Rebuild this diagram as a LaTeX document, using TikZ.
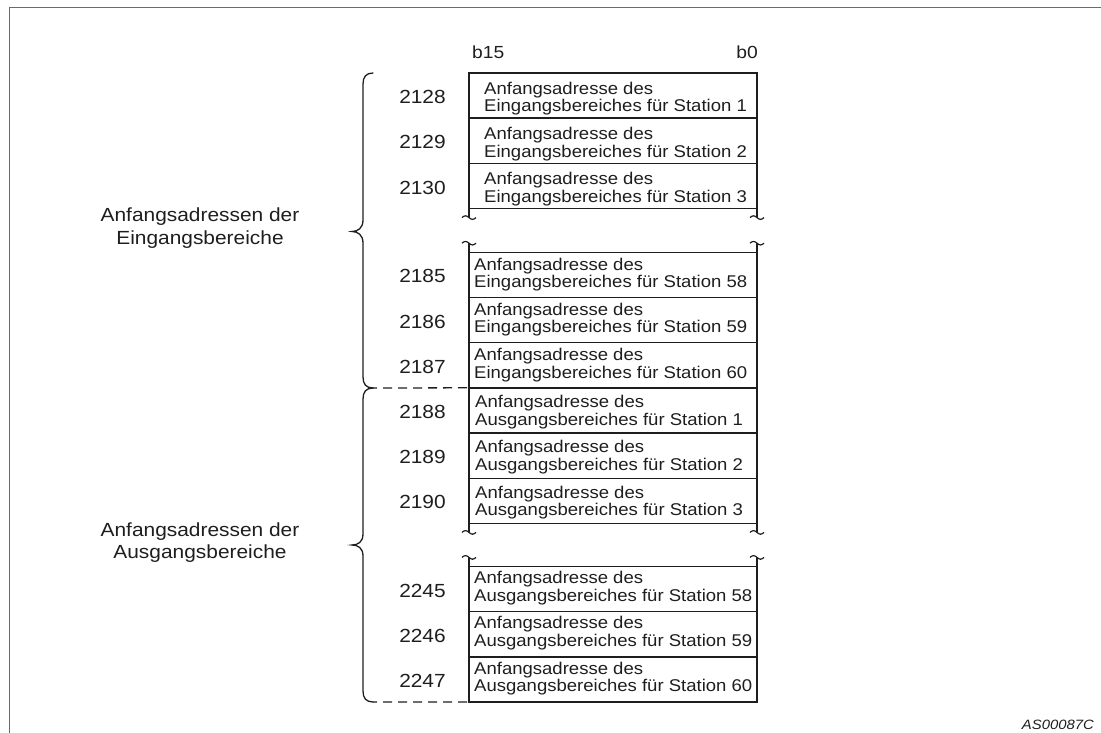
\documentclass[tikz,border=0pt]{standalone}
\usepackage{fontspec}
\setmainfont{Liberation Sans}
\newfontfamily\rowfont[FakeStretch=1.09]{Liberation Sans}
\newfontfamily\numfont[FakeStretch=1.1]{Liberation Sans}
\usetikzlibrary{calc}
\definecolor{ink}{HTML}{1E1E1E}
\definecolor{framegray}{HTML}{6A6A6A}

\begin{document}
\begin{tikzpicture}[x=1pt,y=-1pt,
  cell/.style={draw=ink, line width=1.4pt, minimum width=288pt, minimum height=45.2pt,
    inner sep=0pt, outer sep=0pt, anchor=north west},
  celltext/.style={inner sep=0pt, anchor=base west, text=ink,
    font=\rowfont\fontsize{17}{17.5}\selectfont},
  addr/.style={inner sep=0pt, anchor=base, text=ink,
    font=\numfont\fontsize{19}{20}\selectfont},
  hdr/.style={inner sep=0pt, text=ink, font=\numfont\fontsize{17.5}{20}\selectfont},
  sidelabel/.style={inner sep=0pt, anchor=base, text=ink,
    font=\numfont\fontsize{19}{22.5}\selectfont},
  brace/.style={draw=ink, line width=1.3pt, line cap=round},
  dashline/.style={draw=ink, line width=1.3pt, dash pattern=on 9pt off 6pt, dash phase=5pt},
  brk/.style={draw=ink, line width=1.2pt},
]
\useasboundingbox (0,0) rectangle (1101,733);

% outer frame (top and left edges)
\draw[framegray, line width=1.3pt] (9.5,733) -- (9.5,7.5) -- (1101,7.5);

% column header
\node[hdr, anchor=base west] (b15) at (472,59) {b15};
\node[hdr, anchor=base east] (b0) at (758,59) {b0};

% input area start addresses
\node[cell] (r1) at (469,73) {};
\node[cell] (r2) at (r1.south west) {};
\node[cell] (r3) at (r2.south west) {};
\node[cell] (r4) at (469,252.2) {};
\node[cell] (r5) at (r4.south west) {};
\node[cell] (r6) at (r5.south west) {};
% output area start addresses
\node[cell] (r7) at (r6.south west) {};
\node[cell] (r8) at (r7.south west) {};
\node[cell] (r9) at (r8.south west) {};
\node[cell] (r10) at (469,566.4) {};
\node[cell] (r11) at (r10.south west) {};
\node[cell] (r12) at (r11.south west) {};

% cell texts
\node[celltext] (t1) at ($(r1.north west)+(15,21.3)$) {\begin{tabular}[t]{@{}l@{}}Anfangsadresse des\\Eingangsbereiches für Station 1\end{tabular}};
\node[celltext] (t2) at ($(r2.north west)+(15,21.3)$) {\begin{tabular}[t]{@{}l@{}}Anfangsadresse des\\Eingangsbereiches für Station 2\end{tabular}};
\node[celltext] (t3) at ($(r3.north west)+(15,21.3)$) {\begin{tabular}[t]{@{}l@{}}Anfangsadresse des\\Eingangsbereiches für Station 3\end{tabular}};
\node[celltext] (t4) at ($(r4.north west)+(5,18)$) {\begin{tabular}[t]{@{}l@{}}Anfangsadresse des\\Eingangsbereiches für Station 58\end{tabular}};
\node[celltext] (t5) at ($(r5.north west)+(5,18)$) {\begin{tabular}[t]{@{}l@{}}Anfangsadresse des\\Eingangsbereiches für Station 59\end{tabular}};
\node[celltext] (t6) at ($(r6.north west)+(5,18)$) {\begin{tabular}[t]{@{}l@{}}Anfangsadresse des\\Eingangsbereiches für Station 60\end{tabular}};
\node[celltext] (t7) at ($(r7.north west)+(6,19.8)$) {\begin{tabular}[t]{@{}l@{}}Anfangsadresse des\\Ausgangsbereiches für Station 1\end{tabular}};
\node[celltext] (t8) at ($(r8.north west)+(6,19.8)$) {\begin{tabular}[t]{@{}l@{}}Anfangsadresse des\\Ausgangsbereiches für Station 2\end{tabular}};
\node[celltext] (t9) at ($(r9.north west)+(6,19.8)$) {\begin{tabular}[t]{@{}l@{}}Anfangsadresse des\\Ausgangsbereiches für Station 3\end{tabular}};
\node[celltext] (t10) at ($(r10.north west)+(5,17.2)$) {\begin{tabular}[t]{@{}l@{}}Anfangsadresse des\\Ausgangsbereiches für Station 58\end{tabular}};
\node[celltext] (t11) at ($(r11.north west)+(5,17.2)$) {\begin{tabular}[t]{@{}l@{}}Anfangsadresse des\\Ausgangsbereiches für Station 59\end{tabular}};
\node[celltext] (t12) at ($(r12.north west)+(5,17.2)$) {\begin{tabular}[t]{@{}l@{}}Anfangsadresse des\\Ausgangsbereiches für Station 60\end{tabular}};

% addresses
\node[addr] (a1) at ($(r1.west)+(-46.5,8)$) {2128};
\node[addr] (a2) at ($(r2.west)+(-46.5,8)$) {2129};
\node[addr] (a3) at ($(r3.west)+(-46.5,8)$) {2130};
\node[addr] (a4) at ($(r4.west)+(-46.5,8)$) {2185};
\node[addr] (a5) at ($(r5.west)+(-46.5,8)$) {2186};
\node[addr] (a6) at ($(r6.west)+(-46.5,8)$) {2187};
\node[addr] (a7) at ($(r7.west)+(-46.5,8)$) {2188};
\node[addr] (a8) at ($(r8.west)+(-46.5,8)$) {2189};
\node[addr] (a9) at ($(r9.west)+(-46.5,8)$) {2190};
\node[addr] (a10) at ($(r10.west)+(-46.5,8)$) {2245};
\node[addr] (a11) at ($(r11.west)+(-46.5,8)$) {2246};
\node[addr] (a12) at ($(r12.west)+(-46.5,8)$) {2247};

% break marks below row 3 / above row 58 (inputs)
\draw[brk] (r3.south west) -- ++(0,9) coordinate (k1);
\draw[brk] (r3.south east) -- ++(0,9) coordinate (k2);
\draw[brk] (r4.north west) -- ++(0,-9) coordinate (k3);
\draw[brk] (r4.north east) -- ++(0,-9) coordinate (k4);
% break marks below row 3 / above row 58 (outputs)
\draw[brk] (r9.south west) -- ++(0,9) coordinate (k5);
\draw[brk] (r9.south east) -- ++(0,9) coordinate (k6);
\draw[brk] (r10.north west) -- ++(0,-9) coordinate (k7);
\draw[brk] (r10.north east) -- ++(0,-9) coordinate (k8);
\foreach \k in {k1,k2,k3,k4,k5,k6,k7,k8}
  \draw[brk] ($(\k)+(-7,0)$) sin ++(3.5,-1.8) cos ++(3.5,1.8) sin ++(3.5,1.8) cos ++(3.5,-1.8);

% braces
\coordinate (g1top) at (373,73);
\coordinate (gmid) at (373,388);
\coordinate (g2bot) at (373,702);
\draw[brace] (g1top) .. controls (366,73) and (363,77) .. (363,84)
  -- (363,220) .. controls (363,228) and (358,231.5) .. (352,231.5)
  .. controls (358,231.5) and (363,235) .. (363,243)
  -- (363,377) .. controls (363,384) and (366,388) .. (gmid);
\draw[brace] (gmid) .. controls (366,388) and (363,392) .. (363,399)
  -- (363,534) .. controls (363,542) and (358,545) .. (352,545)
  .. controls (358,545) and (363,548) .. (363,556)
  -- (363,691) .. controls (363,698) and (366,702) .. (g2bot);
\draw[dashline] (gmid) -- (r6.south west);
\draw[dashline] (g2bot) -- (r12.south west);

% side labels
\node[sidelabel] (lin) at (200,222) {\begin{tabular}[t]{@{}c@{}}Anfangsadressen der\\Eingangsbereiche\end{tabular}};
\node[sidelabel] (lout) at (200,536) {\begin{tabular}[t]{@{}c@{}}Anfangsadressen der\\Ausgangsbereiche\end{tabular}};

% figure id
\node[inner sep=0pt, anchor=base east, text=ink, font=\numfont\itshape\fontsize{13.5}{15}\selectfont] (fid) at (1094,729) {AS00087C};
\end{tikzpicture}
\end{document}
